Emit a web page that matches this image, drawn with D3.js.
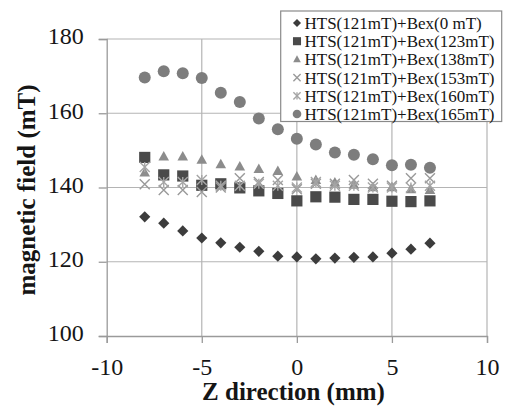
<!DOCTYPE html>
<html><head><meta charset="utf-8">
<script src="https://cdn.jsdelivr.net/npm/d3@7"></script>
<style>body{margin:0;background:#fff}svg{display:block}</style>
</head><body>
<svg id="c" width="508" height="407"></svg>
<script>
const zPositions = [-8,-7,-6,-5,-4,-3,-2,-1,0,1,2,3,4,5,6,7];
const seriesNames = ["HTS(121mT)+Bex(0 mT)","HTS(121mT)+Bex(123mT)","HTS(121mT)+Bex(138mT)","HTS(121mT)+Bex(153mT)","HTS(121mT)+Bex(160mT)","HTS(121mT)+Bex(165mT)"];
const bex0   = [132.1,130.4,128.3,126.4,125.1,123.9,122.8,121.5,121.3,120.8,121.0,121.2,121.3,122.3,123.4,125.0];
const bex123 = [148.1,143.4,143.1,140.6,141.0,139.9,139.1,138.4,136.4,137.5,137.4,136.8,136.8,136.3,136.2,136.4];
const bex138 = [144.0,148.3,148.3,147.4,146.2,145.6,144.9,144.4,142.9,142.0,141.3,140.7,140.0,140.0,139.5,139.3];
const bex153 = [140.9,139.3,139.3,138.8,140.0,142.5,141.5,142.0,139.5,141.0,141.0,142.0,141.0,140.5,142.5,142.5];
const bex160 = [145.5,141.5,141.5,142.0,140.5,140.5,141.0,140.5,140.0,141.5,140.5,140.5,140.0,140.0,140.0,140.5];
const bex165 = [169.6,171.3,170.8,169.5,165.5,163.0,158.6,155.7,153.1,151.6,149.4,148.8,147.6,146.0,146.1,145.3];
const xTicks = [-10,-5,0,5,10];
const yTicks = [100,120,140,160,180];

const series = [
  {name: seriesNames[0], values: bex0,   shape: "diamond",  color: "#3c3c3c"},
  {name: seriesNames[1], values: bex123, shape: "square",   color: "#4a4a4a"},
  {name: seriesNames[2], values: bex138, shape: "triangle", color: "#8c8c8c"},
  {name: seriesNames[3], values: bex153, shape: "x",        color: "#9a9a9a"},
  {name: seriesNames[4], values: bex160, shape: "star",     color: "#a5a5a5"},
  {name: seriesNames[5], values: bex165, shape: "circle",   color: "#7d7d7d"}
];

const svg = d3.select("#c");
const x = d3.scaleLinear().domain([-10,10]).range([106.7,487]);
const y = d3.scaleLinear().domain([100,180]).range([336,39]);
const serif = "'Liberation Serif','Times New Roman',serif";

// grid
svg.append("g").selectAll("line").data(yTicks.filter(d=>d>100)).join("line")
  .attr("x1",x(-10)).attr("x2",x(10)).attr("y1",d=>y(d)).attr("y2",d=>y(d))
  .attr("stroke","#b4b4b4").attr("stroke-width",1.2);
svg.append("g").selectAll("line").data(xTicks.filter(d=>d>-10)).join("line")
  .attr("y1",y(100)).attr("y2",y(180)).attr("x1",d=>x(d)).attr("x2",d=>x(d))
  .attr("stroke","#b4b4b4").attr("stroke-width",1.2);

// axes
const xAxis = svg.append("g").attr("transform",`translate(0,${y(100)})`)
  .call(d3.axisBottom(x).tickValues(xTicks).tickSize(7).tickPadding(15).tickFormat(d=>d<0?"-"+Math.abs(d):String(d)));
const yAxis = svg.append("g").attr("transform",`translate(${x(-10)},0)`)
  .call(d3.axisLeft(y).tickValues(yTicks).tickSize(8).tickPadding(15));
[xAxis,yAxis].forEach(g=>{
  g.attr("font-family",null).attr("font-size",null);
  g.select(".domain").attr("stroke","#9a9a9a").attr("stroke-width",1.3);
  g.selectAll(".tick line").attr("stroke","#9a9a9a").attr("stroke-width",1.3);
  g.selectAll("text").style("font-family",serif).style("font-size","24px").attr("fill","#151515");
});
yAxis.selectAll("text").attr("dy","0.2em");

// titles
svg.append("text").attr("x",293.5).attr("y",400).attr("text-anchor","middle")
  .style("font-family",serif).attr("font-weight","bold").style("font-size","25px").attr("fill","#151515")
  .text("Z direction (mm)");
svg.append("text").attr("transform","translate(35,190) rotate(-90)").attr("text-anchor","middle")
  .style("font-family",serif).attr("font-weight","bold").style("font-size","25px").attr("fill","#151515")
  .text("magnetic field (mT)");

function drawMarker(g, shape, color, s) {
  let d;
  if (shape === "diamond") { const r = 5.6*s; d = `M0,${-r}L${r},0L0,${r}L${-r},0Z`; }
  else if (shape === "square") { const r = 5.6*s; d = `M${-r},${-r}H${r}V${r}H${-r}Z`; }
  else if (shape === "triangle") { const w = 5.3*s, h = 9.5*s; d = `M0,${-h*0.6}L${w},${h*0.4}L${-w},${h*0.4}Z`; }
  if (d) { g.append("path").attr("d", d).attr("fill", color); return; }
  if (shape === "circle") { g.append("circle").attr("r", 6*s).attr("fill", color); return; }
  const r = 5*s;
  g.append("path").attr("d",`M${-r},${-r}L${r},${r}M${-r},${r}L${r},${-r}`)
    .attr("stroke",color).attr("stroke-width",1.4).attr("fill","none");
  if (shape === "star") g.append("path").attr("d",`M0,${-r}L0,${r}`)
    .attr("stroke",color).attr("stroke-width",1.4);
}

// points
series.forEach(s=>{
  const g = svg.append("g");
  s.values.forEach((v,i)=>{
    const m = g.append("g").attr("transform",`translate(${x(zPositions[i])},${y(v)})`);
    drawMarker(m, s.shape, s.color, 1);
  });
});

// legend
const lg = svg.append("g");
lg.append("rect").attr("x",280.7).attr("y",11).attr("width",221).attr("height",110.5)
  .attr("fill","#fff").attr("stroke","#8a8a8a").attr("stroke-width",1.2);
series.forEach((s,i)=>{
  const base = 29 + i*18.2;
  const m = lg.append("g").attr("transform",`translate(297,${base-6})`);
  drawMarker(m, s.shape, s.color, 0.72);
  lg.append("text").attr("x",304.5).attr("y",base).style("font-family",serif)
    .style("font-size","17px").attr("fill","#151515").text(s.name);
});
</script>
</body></html>
